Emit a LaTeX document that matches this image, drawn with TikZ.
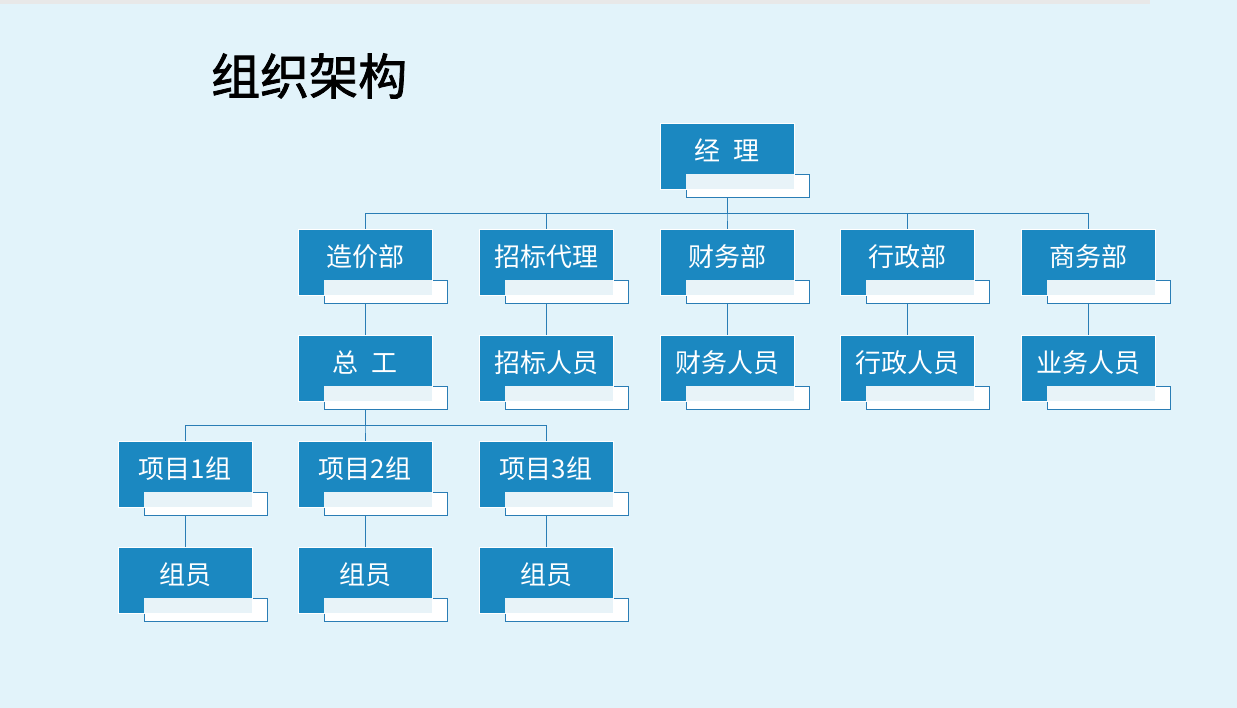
\documentclass[tikz,border=0pt]{standalone}
\usepackage{fontspec}
\newfontfamily\cjk{Noto Sans CJK SC}
\newfontfamily\cjktitle{Noto Sans CJK SC}[FakeBold=1.6]
\usepackage{tikz}
\usetikzlibrary{positioning}
\definecolor{pagebg}{HTML}{E2F3FA}
\definecolor{cardblue}{HTML}{1B88C1}
\definecolor{linkblue}{HTML}{2A7DB5}

\begin{document}
\begin{tikzpicture}[x=1pt, y=1pt,
			card/.style={draw=white, line width=0.8pt, fill=cardblue, minimum width=134pt, minimum height=66pt, inner sep=0pt, text=white, text height=16pt, text depth=7pt, font=\cjk\fontsize{26}{30}\selectfont},
			tab/.style={draw=linkblue, line width=0.8pt, fill=white, minimum width=123pt, minimum height=23pt, inner sep=0pt},
			link/.style={draw=linkblue, line width=0.8pt}
		]
		% page
		\fill[pagebg] (0,0) rectangle (1237,-708);
		\useasboundingbox (0,0) rectangle (1237,-708);
		\fill[gray!18] (0,0) rectangle (1150,-4);

		\node[anchor=west, inner sep=0pt, font=\cjktitle\fontsize{49}{52}\selectfont] (title) at (211,-76) {组织架构};

		% cards: tab behind, blue box, pale overlap
		\foreach \n/\x/\y/\t in {
				jl/727/156/{经\hspace{0.5em}理},
				zj/365/262/造价部, zb/546/262/招标代理, cw/727/262/财务部, xz/907/262/行政部, sw/1088/262/商务部,
				zg/365/368/{总\hspace{0.5em}工}, zbry/546/368/招标人员, cwry/727/368/财务人员, xzry/907/368/行政人员, ywry/1088/368/业务人员,
				xm1/185/474/项目1组, xm2/365/474/项目2组, xm3/546/474/项目3组,
				zy1/185/580/组员, zy2/365/580/组员, zy3/546/580/组员} {
			\node[tab] (\n-t) at ({\x+20.5},{-\y-29.5}) {};
			\node[card] (\n) at (\x,-\y) {\t};
			\fill[white, opacity=0.9] (\n-t.north west) rectangle (\n.south east);
		}

		% links
		\foreach \c in {zj,zb,cw,xz,sw}
			\draw[link] (jl.south |- jl-t.south) -- ++(0,-16) -| (\c.north);
		\foreach \c in {xm1,xm2,xm3}
			\draw[link] (zg.south |- zg-t.south) -- ++(0,-16) -| (\c.north);
		\draw[link] (zj.south |- zj-t.south) -- (zg.north);
		\draw[link] (zb.south |- zb-t.south) -- (zbry.north);
		\draw[link] (cw.south |- cw-t.south) -- (cwry.north);
		\draw[link] (xz.south |- xz-t.south) -- (xzry.north);
		\draw[link] (sw.south |- sw-t.south) -- (ywry.north);
		\draw[link] (xm1.south |- xm1-t.south) -- (zy1.north);
		\draw[link] (xm2.south |- xm2-t.south) -- (zy2.north);
		\draw[link] (xm3.south |- xm3-t.south) -- (zy3.north);
	\end{tikzpicture}
\end{document}
